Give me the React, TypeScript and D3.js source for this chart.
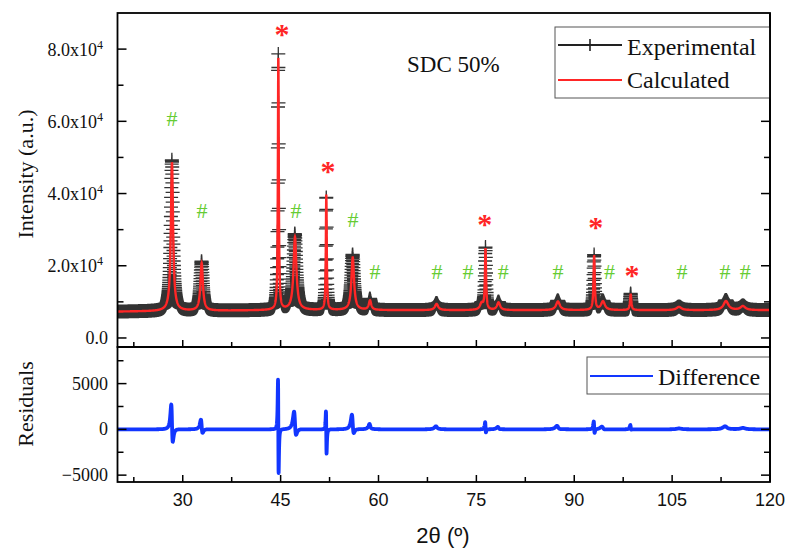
import React from "react";
import * as d3 from "d3";

// ---- axis ticks ----
const xMajorTicks = [30, 45, 60, 75, 90, 105, 120];
const xMinorTicks = [22.5, 37.5, 52.5, 67.5, 82.5, 97.5, 112.5];
const topMajorTicks = [0, 20000, 40000, 60000, 80000];
const topTickMantissa = ["0.0", "2.0", "4.0", "6.0", "8.0"];
const topMinorTicks = [10000, 30000, 50000, 70000];
const resMajorTicks = [-5000, 0, 5000];
const resTickLabels = ["\u22125000", "0", "5000"];
const resMinorTicks = [-2500, 2500, 7500];

// ---- background (read anchors) ----
const bgAngles = [20, 45, 120];
const bgLevels = [7300, 7700, 7700];

// ---- refined peaks ----
const peakPos = [28.35, 32.9, 44.65, 47.2, 52.0, 56.05, 58.7, 68.9, 75.8, 76.4, 78.4, 87.5, 93.05, 94.4, 98.65, 106.05, 113.25, 115.85];
const peakHeight = [41000, 13200, 70400, 20200, 31900, 14600, 2600, 1700, 1800, 16800, 2100, 2400, 14900, 2400, 4300, 900, 2500, 1100];
const peakHwhm = [0.2, 0.22, 0.08, 0.26, 0.08, 0.24, 0.22, 0.3, 0.3, 0.1, 0.28, 0.35, 0.11, 0.35, 0.12, 0.45, 0.45, 0.45];
// experimental excess height and position offset relative to the calculated peak
const peakExcess = [900, 450, 350, 900, -450, 800, 500, 300, 0, 300, 200, 300, 300, 200, 300, 100, 300, 150];
const peakShift = [-0.015, -0.018, -0.009, -0.024, -0.009, -0.024, -0.02, -0.02, 0, -0.005, -0.02, -0.03, -0.007, -0.03, -0.01, 0, -0.02, 0];

// ---- phase annotations ----
const markAngles = [45.2, 28.35, 32.95, 47.35, 52.25, 56.1, 59.45, 68.95, 73.7, 76.3, 79.1, 87.5, 93.3, 95.4, 98.85, 106.5, 113.1, 116.2];
const markLevels = [85850, 60900, 35400, 35400, 47900, 32700, 18300, 18300, 18300, 33200, 18300, 18300, 32400, 18300, 19100, 18300, 18300, 18300];
const markSymbols = ["*", "#", "#", "#", "*", "#", "#", "#", "#", "*", "#", "#", "*", "#", "*", "#", "#", "#"];

const STEP = 0.02;
const N = Math.round((120 - 20) / STEP);

const SERIF = "'Liberation Serif', 'Times New Roman', serif";
const SANS = "'Liberation Sans', Arial, sans-serif";
const RED = "#ff2626";
const BLUE = "#1236ff";
const GREEN = "#66cc33";
const GREY = "#333333";

export default function App() {
  const x = d3.scaleLinear().domain([20, 120]).range([117.5, 770]);
  const yTop = d3.scaleLinear().domain([-2500, 90000]).range([347, 13]);
  const yRes = d3.scaleLinear().domain([-5750, 9000]).range([482, 347]);
  const bg = d3.scaleLinear().domain(bgAngles).range(bgLevels);

  const angles = d3.range(0, N + 1).map((i) => 20 + i * STEP);
  const lor = (t: number, p: number, g: number) => (g * g) / ((t - p) * (t - p) + g * g);
  const calc = angles.map((t) => {
    let v = bg(t);
    for (let k = 0; k < peakPos.length; k++) v += peakHeight[k] * lor(t, peakPos[k], peakHwhm[k]);
    return v;
  });
  const expv = angles.map((t) => {
    let v = bg(t);
    for (let k = 0; k < peakPos.length; k++)
      v += (peakHeight[k] + peakExcess[k]) * lor(t, peakPos[k] + peakShift[k], peakHwhm[k]);
    return v;
  });
  const resid = expv.map((v, i) => v - calc[i]);

  const lineCalc = d3.line<number>().x((_, i) => x(angles[i])).y((d) => yTop(d))(calc) || "";
  const lineExp = d3.line<number>().x((_, i) => x(angles[i])).y((d) => yTop(d))(expv) || "";
  const lineRes = d3.line<number>().x((_, i) => x(angles[i])).y((d) => yRes(d))(resid) || "";

  let markers = "";
  for (let i = 0; i < angles.length; i++) {
    const px = x(angles[i]);
    const py = yTop(expv[i]);
    markers += `M${(px - 7).toFixed(1)},${py.toFixed(1)}h14M${px.toFixed(1)},${(py - 7).toFixed(1)}v14`;
  }

  const L = 117.5, R = 770, T = 13, MID = 347, B = 482;

  return (
    <svg width={787} height={551} style={{ position: "absolute", left: 0, top: 0, background: "#fff" }}>
      <defs>
        <clipPath id="clipTop"><rect x={L} y={T} width={R - L} height={MID - T} /></clipPath>
        <clipPath id="clipRes"><rect x={L} y={MID} width={R - L} height={B - MID} /></clipPath>
      </defs>
      <rect width={787} height={551} fill="#fff" />

      {/* top panel data */}
      <g clipPath="url(#clipTop)">
        <path d={lineExp} fill="none" stroke={GREY} strokeWidth={1.2} />
        <path d={markers} fill="none" stroke={GREY} strokeWidth={1.3} />
        <path d={lineCalc} fill="none" stroke={RED} strokeWidth={2.4} />
      </g>

      {/* annotations */}
      {markAngles.map((a, i) => {
        const cx = x(a);
        const cy = yTop(markLevels[i]);
        const star = markSymbols[i] === "*";
        const fs = star ? 30 : 22;
        return (
          <text key={"m" + i} x={cx} y={star ? cy + fs * 0.52 : cy + fs * 0.34} textAnchor="middle"
            fontFamily={SERIF} fontSize={fs} fill={star ? RED : GREEN} fontWeight={star ? "bold" : "normal"}>
            {markSymbols[i]}
          </text>
        );
      })}

      <text x={407} y={72} fontFamily={SERIF} fontSize={23} fill="#111">SDC 50%</text>

      {/* residual */}
      <g clipPath="url(#clipRes)">
        <path d={lineRes} fill="none" stroke={BLUE} strokeWidth={3.8} strokeLinejoin="round" />
      </g>

      {/* ticks top panel */}
      {topMajorTicks.map((v, i) => (
        <g key={"tm" + i}>
          <line x1={L} x2={L + 9} y1={yTop(v)} y2={yTop(v)} stroke="#000" strokeWidth={1.5} />
          <line x1={R} x2={R - 9} y1={yTop(v)} y2={yTop(v)} stroke="#000" strokeWidth={1.5} />
          {v === 0 ? (
            <text x={108} y={yTop(v) + 6.5} textAnchor="end" fontFamily={SERIF} fontSize={18} fill="#111">{topTickMantissa[i]}</text>
          ) : (
            <text x={103} y={yTop(v) + 6.5} textAnchor="end" fontFamily={SERIF} fontSize={18} fill="#111">
              {topTickMantissa[i]}x10<tspan fontSize={12} dy={-7}>4</tspan>
            </text>
          )}
        </g>
      ))}
      {topMinorTicks.map((v, i) => (
        <g key={"tn" + i}>
          <line x1={L} x2={L + 6} y1={yTop(v)} y2={yTop(v)} stroke="#000" strokeWidth={1.5} />
          <line x1={R} x2={R - 6} y1={yTop(v)} y2={yTop(v)} stroke="#000" strokeWidth={1.5} />
        </g>
      ))}

      {/* ticks residual panel */}
      {resMajorTicks.map((v, i) => (
        <g key={"rm" + i}>
          <line x1={L} x2={L + 9} y1={yRes(v)} y2={yRes(v)} stroke="#000" strokeWidth={1.5} />
          <line x1={R} x2={R - 9} y1={yRes(v)} y2={yRes(v)} stroke="#000" strokeWidth={1.5} />
          <text x={108} y={yRes(v) + 6} textAnchor="end" fontFamily={SERIF} fontSize={18} fill="#111">{resTickLabels[i]}</text>
        </g>
      ))}
      {resMinorTicks.map((v, i) => (
        <g key={"rn" + i}>
          <line x1={L} x2={L + 6} y1={yRes(v)} y2={yRes(v)} stroke="#000" strokeWidth={1.5} />
          <line x1={R} x2={R - 6} y1={yRes(v)} y2={yRes(v)} stroke="#000" strokeWidth={1.5} />
        </g>
      ))}

      {/* x ticks */}
      {xMajorTicks.map((v, i) => (
        <g key={"xm" + i}>
          <line x1={x(v)} x2={x(v)} y1={MID} y2={MID - 7} stroke="#000" strokeWidth={1.5} />
          <line x1={x(v)} x2={x(v)} y1={B} y2={B - 7} stroke="#000" strokeWidth={1.5} />
          <text x={x(v)} y={506} textAnchor="middle" fontFamily={SANS} fontSize={18} fill="#111">{v}</text>
        </g>
      ))}
      {xMinorTicks.map((v, i) => (
        <g key={"xn" + i}>
          <line x1={x(v)} x2={x(v)} y1={MID} y2={MID - 5} stroke="#000" strokeWidth={1.5} />
          <line x1={x(v)} x2={x(v)} y1={B} y2={B - 5} stroke="#000" strokeWidth={1.5} />
        </g>
      ))}

      {/* frames */}
      <rect x={L} y={T} width={R - L} height={MID - T} fill="none" stroke="#000" strokeWidth={1.8} />
      <rect x={L} y={MID} width={R - L} height={B - MID} fill="none" stroke="#000" strokeWidth={1.8} />

      {/* axis titles */}
      <text transform="translate(33,174) rotate(-90)" textAnchor="middle" fontFamily={SERIF} fontSize={22} fill="#111">Intensity (a.u.)</text>
      <text transform="translate(33,404) rotate(-90)" textAnchor="middle" fontFamily={SERIF} fontSize={22} fill="#111">Residuals</text>
      <text x={443} y={543} textAnchor="middle" fontFamily={SANS} fontSize={22} fill="#111">2θ (º)</text>

      {/* legend top */}
      <rect x={555} y={27} width={R - 555} height={71} fill="#fff" stroke="#555" strokeWidth={1} />
      <line x1={558} x2={622} y1={45} y2={45} stroke="#222" strokeWidth={2} />
      <line x1={590} x2={590} y1={39} y2={51} stroke="#222" strokeWidth={1.6} />
      <text x={627} y={55} fontFamily={SERIF} fontSize={24} fill="#111">Experimental</text>
      <line x1={558} x2={622} y1={80} y2={80} stroke={RED} strokeWidth={2} />
      <text x={627} y={88} fontFamily={SERIF} fontSize={24} fill="#111">Calculated</text>

      {/* legend residual */}
      <rect x={587} y={357} width={R - 587} height={37} fill="#fff" stroke="#555" strokeWidth={1} />
      <line x1={590} x2={653} y1={376} y2={376} stroke={BLUE} strokeWidth={2} />
      <text x={658} y={385} fontFamily={SERIF} fontSize={24} fill="#111">Difference</text>
      <line x1={R} x2={R} y1={T} y2={B} stroke="#000" strokeWidth={1.8} />
    </svg>
  );
}
